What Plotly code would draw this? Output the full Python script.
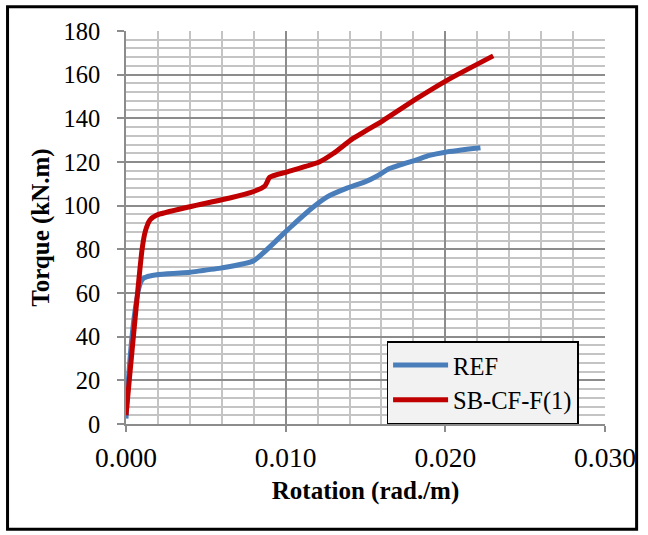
import plotly.graph_objects as go

# Data
ref_rotation = [0.0, 0.00106, 0.0040, 0.0060, 0.0080, 0.0101, 0.0115, 0.0126, 0.0138, 0.0150, 0.0157, 0.0165, 0.0182, 0.0190, 0.0200, 0.0222]
ref_torque = [2.5, 66.5, 69.5, 71.5, 74.8, 88.8, 98.0, 104.0, 107.9, 111.0, 113.5, 117.0, 121.0, 123.0, 124.5, 126.5]

sb_rotation = [0.0, 0.0010, 0.0012, 0.0015, 0.0019, 0.0040, 0.0065, 0.0080, 0.0087, 0.0090, 0.0101, 0.0121, 0.0130, 0.0142, 0.0161, 0.0182, 0.0201, 0.0230]
sb_torque = [4.0, 79.6, 88.0, 93.4, 95.6, 99.5, 103.5, 106.5, 109.0, 113.0, 115.5, 120.0, 124.0, 130.7, 139.0, 149.0, 157.4, 168.6]

x_ticks = [0.0, 0.01, 0.02, 0.03]
x_tick_labels = ["0.000", "0.010", "0.020", "0.030"]

FONT = "Liberation Serif, Times New Roman, serif"

fig = go.Figure()
fig.add_trace(go.Scatter(x=ref_rotation, y=ref_torque, mode="lines", name="REF",
                         line=dict(color="#4a7ebb", width=5, shape="spline", smoothing=0.5)))
fig.add_trace(go.Scatter(x=sb_rotation, y=sb_torque, mode="lines", name="SB-CF-F(1)",
                         line=dict(color="#c00000", width=5, shape="spline", smoothing=0.5)))

fig.update_xaxes(range=[0, 0.03], tickvals=x_ticks, ticktext=x_tick_labels,
                 showgrid=True, gridcolor="#8c8c8c", gridwidth=1.5,
                 minor=dict(dtick=0.002, showgrid=True, gridcolor="#c4c4c4", gridwidth=1.5),
                 showline=True, linecolor="#8c8c8c", linewidth=1.5,
                 ticks="outside", ticklen=6, tickcolor="#8c8c8c", tickwidth=1.5,
                 zeroline=False, ticklabelstandoff=2,
                 tickfont=dict(family=FONT, size=27.5, color="black"),
                 title=dict(text="<b>Rotation (rad./m)</b>", font=dict(family=FONT, size=25, color="black"), standoff=10))
fig.update_yaxes(range=[0, 180], dtick=20,
                 showgrid=True, gridcolor="#8c8c8c", gridwidth=1.5,
                 minor=dict(dtick=4, showgrid=True, gridcolor="#c4c4c4", gridwidth=1.5),
                 showline=True, linecolor="#8c8c8c", linewidth=1.5,
                 ticks="outside", ticklen=7, tickcolor="#8c8c8c", tickwidth=1.5,
                 zeroline=False, ticklabelstandoff=12,
                 tickfont=dict(family=FONT, size=24.5, color="black"),
                 title=dict(text="<b>Torque (kN.m)</b>", font=dict(family=FONT, size=25, color="black"), standoff=7))

fig.add_shape(type="rect", xref="paper", yref="paper",
              x0=-0.2473, x1=1.066, y0=-0.268, y1=1.0615,
              line=dict(color="black", width=3), fillcolor="rgba(0,0,0,0)", layer="above")

fig.update_layout(
    width=648, height=535,
    margin=dict(l=126, r=40, t=31, b=111),
    paper_bgcolor="white", plot_bgcolor="white",
    font=dict(family=FONT, color="black"),
    showlegend=True,
    legend=dict(x=0.544, y=0.1055, xanchor="left", yanchor="middle",
                bgcolor="#f2f2f2", bordercolor="black", borderwidth=1.5,
                font=dict(family=FONT, size=24.5, color="black"),
                itemwidth=55, tracegroupgap=0),
)

fig.write_html("out.html")
